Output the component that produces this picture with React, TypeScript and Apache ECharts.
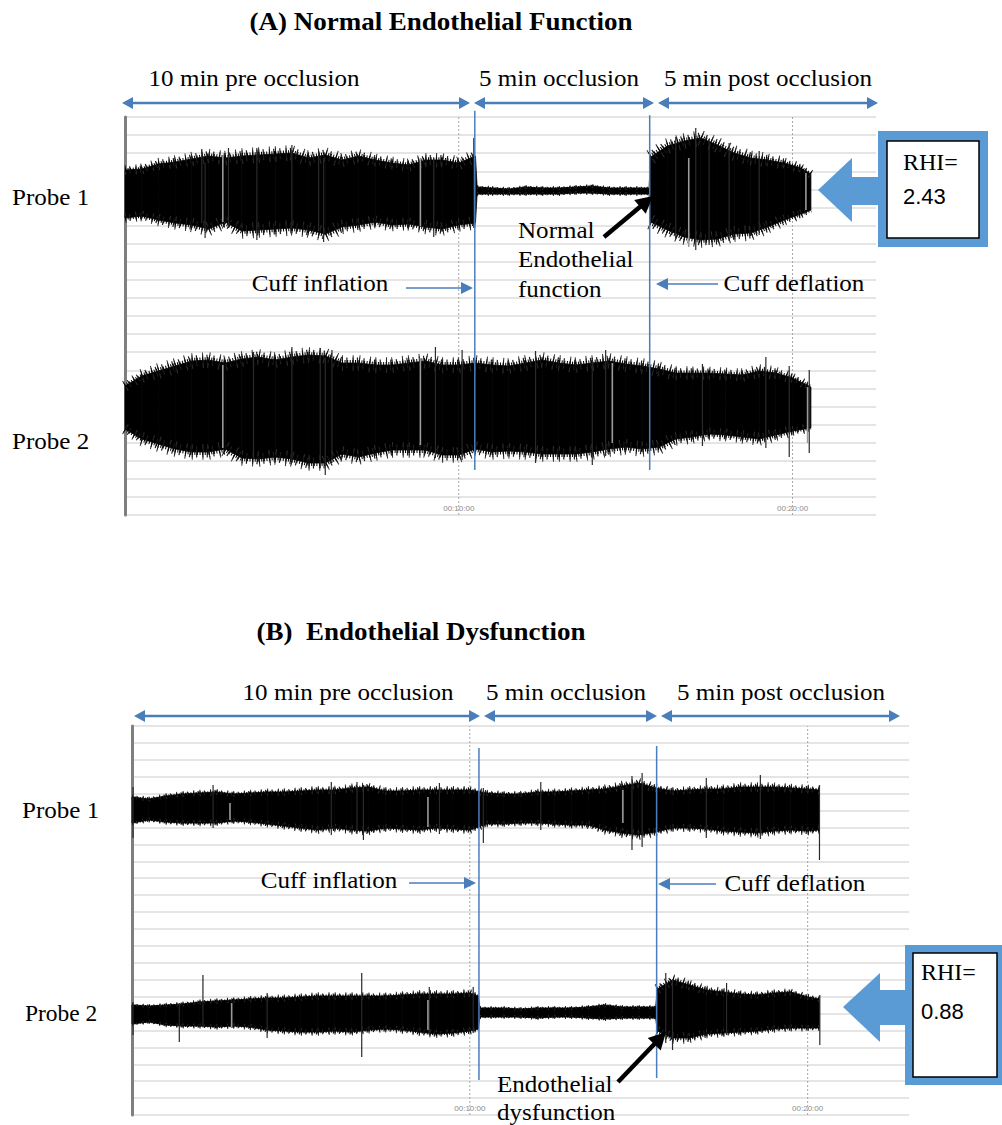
import React, { useEffect, useRef } from "react";
import * as echarts from "echarts";

// ---------------- DATA ----------------
// Time in minutes; envelope rows are [time, upper amplitude, lower amplitude] in arbitrary units (a.u.)
const TIME_TICKS = [10, 20];
const TICK_LABELS = ["00:10:00", "00:20:00"];

const CUFF_A = [10.48, 15.72]; // inflation, deflation (min)
const CUFF_B = [10.27, 15.53];

const A1_ENV: number[][] = [
  [0, 23, -25], [0.5, 24, -23], [1, 29, -27], [1.5, 31, -30], [2, 34, -32], [2.5, 37, -36], [3, 35, -29],
  [3.5, 37, -38], [4, 38, -37], [4.5, 39, -36], [5, 40, -35], [5.5, 35, -37], [6, 38, -41], [6.5, 33, -34],
  [7, 37, -32], [7.5, 33, -29], [8, 30, -32], [8.5, 28, -31], [9, 33, -34], [9.5, 33, -36], [10, 30, -32],
  [10.5, 37, -30],
  [10.55, 6, -1], [11, 5, -1], [11.5, 4, -1], [12, 6, -1], [12.5, 5, -1], [13, 5, -1], [13.5, 6, 0],
  [14, 7, 0], [14.5, 5, -1], [15, 5, -1], [15.7, 5, -1],
  [15.75, 36, -29], [16.25, 47, -37], [16.75, 52, -44], [17.25, 55, -47], [17.75, 48, -46], [18.25, 40, -41],
  [18.75, 35, -40], [19.25, 33, -34], [19.75, 30, -27], [20.25, 25, -21], [20.55, 19, -17],
];
const A2_ENV: number[][] = [
  [0, 22, -21], [0.5, 32, -31], [1, 37, -36], [1.5, 42, -41], [2, 47, -44], [2.5, 48, -44], [3, 45, -41],
  [3.5, 49, -50], [4, 51, -51], [4.5, 48, -49], [5, 51, -51], [5.5, 53, -55], [6, 52, -55], [6.5, 45, -46],
  [7, 45, -49], [7.5, 43, -45], [8, 43, -42], [8.5, 45, -42], [9, 47, -42], [9.5, 43, -47], [10, 43, -47],
  [10.5, 45, -41], [11, 43, -44], [11.5, 42, -43], [12, 45, -44], [12.5, 48, -46], [13, 45, -46],
  [13.5, 43, -46], [14, 45, -44], [14.5, 47, -41], [15, 44, -39], [15.5, 42, -41], [16, 39, -39],
  [16.5, 35, -31], [17, 35, -29], [17.5, 35, -26], [18, 34, -27], [18.5, 33, -29], [19, 37, -31],
  [19.5, 35, -27], [20, 30, -23], [20.55, 21, -20],
];
const B1_ENV: number[][] = [
  [0, 13, -13], [0.5, 11, -10], [1, 14, -12], [1.5, 16, -13], [2, 17, -13], [2.5, 18, -13], [3, 16, -11],
  [3.5, 17, -12], [4, 18, -14], [4.5, 18, -16], [5, 19, -18], [5.5, 20, -20], [6, 20, -18], [6.5, 22, -20],
  [7, 23, -21], [7.5, 19, -18], [8, 19, -19], [8.5, 20, -20], [9, 20, -18], [9.5, 20, -19], [10, 20, -20],
  [10.5, 17, -14], [11, 16, -14], [11.5, 16, -13], [12, 18, -13], [12.5, 18, -14], [13, 19, -15],
  [13.5, 20, -15], [14, 21, -20], [14.5, 24, -23], [15, 27, -25], [15.5, 22, -22], [16, 19, -18],
  [16.5, 20, -18], [17, 21, -19], [17.5, 21, -21], [18, 23, -22], [18.5, 23, -23], [19, 23, -21],
  [19.5, 22, -20], [20, 21, -21], [20.35, 20, -20],
];
const B2_ENV: number[][] = [
  [0, 8, -11], [0.5, 7, -9], [1, 8, -12], [1.5, 9, -13], [2, 11, -13], [2.5, 12, -14], [3, 13, -13],
  [3.5, 14, -14], [4, 15, -17], [4.5, 15, -18], [5, 16, -19], [5.5, 17, -19], [6, 17, -18], [6.5, 17, -19],
  [7, 17, -17], [7.5, 17, -16], [8, 18, -17], [8.5, 19, -19], [9, 19, -21], [9.5, 19, -20], [10, 20, -18],
  [10.25, 17, -16],
  [10.3, 5, -4], [11, 5, -4], [11.5, 4, -4], [12, 5, -5], [12.5, 5, -4], [13, 5, -4], [13.5, 6, -5],
  [14, 8, -6], [14.5, 6, -5], [15, 6, -5], [15.5, 6, -5],
  [15.55, 24, -18], [16, 33, -25], [16.5, 28, -25], [17, 23, -21], [17.5, 21, -20], [18, 19, -19],
  [18.5, 18, -18], [19, 20, -16], [19.5, 21, -15], [20, 16, -15], [20.35, 14, -15],
];

// isolated spikes [time, top, bottom]
const A1_SPIKES: number[][] = [
  [2.3, 44, -30], [2.4, 30, -45], [3.1, 45, -35], [3.95, 45, -47], [5.0, 48, -35], [5.8, 41, -38],
  [5.95, 35, -49], [9.25, 35, -44], [10.45, 55, -35], [16.5, 56, -45], [17.1, 65, -57], [17.5, 54, -52],
  [18.1, 50, -48], [19.0, 42, -42],
];
const A2_SPIKES: number[][] = [
  [3.85, 56, -50], [5.0, 61, -55], [5.85, 60, -60], [6.0, 50, -67], [6.2, 58, -55], [9.3, 61, -50],
  [10.1, 58, -52], [12.3, 57, -55], [14.0, 50, -57], [14.4, 58, -48], [17.3, 44, -38], [19.2, 51, -40],
  [19.9, 42, -49], [20.5, 38, -45],
];
const B1_SPIKES: number[][] = [
  [0.03, 23, -28], [2.4, 25, -18], [5.9, 28, -25], [6.66, 28, -24], [6.85, 25, -30], [9.1, 27, -24],
  [10.4, 22, -33], [12.1, 28, -20], [14.8, 34, -40], [15.1, 37, -37], [17.0, 32, -28], [18.6, 35, -29],
  [20.35, 25, -50],
];
const B2_SPIKES: number[][] = [
  [0.03, 11, -22], [1.4, 10, -29], [2.1, 38, -14], [4.0, 20, -25], [6.8, 40, -44], [8.8, 26, -22],
  [10.1, 26, -20], [15.8, 40, -30], [16.0, 33, -37], [17.6, 30, -22], [20.36, 18, -32],
];

// lighter gaps inside the trace [time, top, bottom]
const A1_GAPS: number[][] = [[2.93, 36, -29], [8.85, 35, -33], [16.89, 35, -54], [20.4, 20, -17]];
const A2_GAPS: number[][] = [[2.93, 43, -40], [8.85, 50, -37], [14.6, 45, -35], [20.45, 21, -35]];
const B1_GAPS: number[][] = [[2.9, 7, -10], [8.76, 13, -17], [14.53, 20, -13]];
const B2_GAPS: number[][] = [[2.95, 10, -14], [8.76, 13, -17]];

const RHI_A = "2.43";
const RHI_B = "0.88";

// ---------------- LAYOUT / STYLE ----------------
const SERIF = "Liberation Serif";
const SANS = "Liberation Sans";
const BLUE_LINE = "#4a7ebb";
const BLUE_FILL = "#5b9bd5";

const GRIDS = [
  { left: 125, top: 117, width: 751, height: 398 }, // A background
  { left: 125, top: 123, width: 751, height: 140 }, // A probe 1
  { left: 125, top: 338, width: 751, height: 140 }, // A probe 2
  { left: 132, top: 726, width: 777, height: 389 }, // B background
  { left: 132, top: 740, width: 777, height: 140 }, // B probe 1
  { left: 132, top: 943, width: 777, height: 140 }, // B probe 2
];
const X_MAX = [22.5, 22.5, 22.5, 23, 23, 23];
const ROWS_A = 22;
const ROWS_B = 23;

// fringe (noise texture) drawn along the envelope edges, purely a stroke style
function fringe(p: number[], q: number[], w: number) {
  const a = {
    type: "line",
    shape: { x1: p[0], y1: p[1], x2: q[0], y2: q[1] },
    style: { stroke: "#000", lineWidth: w, lineDash: [1, 1.6] },
  };
  const b = {
    type: "line",
    shape: { x1: p[0], y1: p[1], x2: q[0], y2: q[1] },
    style: { stroke: "#1e1e1e", lineWidth: w * 1.8, lineDash: [1, 3.3, 1.2, 5.1] },
  };
  const c = {
    type: "line",
    shape: { x1: p[0], y1: p[1], x2: q[0], y2: q[1] },
    style: { stroke: "#333", lineWidth: w * 2.6, lineDash: [1, 9.7, 1, 13.3] },
  };
  return [c, b, a];
}

function envSeries(env: number[][], gi: number) {
  return {
    type: "custom",
    xAxisIndex: gi,
    yAxisIndex: gi,
    silent: true,
    z: 2,
    data: env,
    encode: { x: 0, y: [1, 2] },
    renderItem: (params: any, api: any) => {
      const i = params.dataIndex;
      if (i >= env.length - 1) return { type: "group", children: [] };
      const a = env[i];
      const b = env[i + 1];
      const p1 = api.coord([a[0], a[1]]);
      const p2 = api.coord([b[0], b[1]]);
      const p3 = api.coord([b[0], b[2]]);
      const p4 = api.coord([a[0], a[2]]);
      const children: any[] = [
        {
          type: "polygon",
          shape: { points: [p1, p2, p3, p4] },
          style: { fill: "#000", stroke: "#000", lineWidth: 0.8 },
        },
      ];
      if (b[0] - a[0] > 0.1) {
        const amp = (Math.abs(p4[1] - p1[1]) + Math.abs(p3[1] - p2[1])) / 4;
        const w = Math.max(1.5, Math.min(6, amp * 0.16));
        children.push(...fringe(p1, p2, w), ...fringe(p4, p3, w));
      }
      return { type: "group", children };
    },
  };
}

function vSegSeries(rows: number[][], gi: number, color: string, width: number, z: number) {
  return {
    type: "custom",
    xAxisIndex: gi,
    yAxisIndex: gi,
    silent: true,
    z,
    data: rows,
    encode: { x: 0, y: [1, 2] },
    renderItem: (params: any, api: any) => {
      const r = rows[params.dataIndex];
      const p1 = api.coord([r[0], r[1]]);
      const p2 = api.coord([r[0], r[2]]);
      return {
        type: "line",
        shape: { x1: p1[0], y1: p1[1], x2: p2[0], y2: p2[1] },
        style: { stroke: color, lineWidth: width },
      };
    },
  };
}

function dottedSeries(gi: number, rows: number) {
  return {
    type: "custom",
    xAxisIndex: gi,
    yAxisIndex: gi,
    silent: true,
    z: 1,
    data: TIME_TICKS.map((t) => [t]),
    encode: { x: 0 },
    renderItem: (params: any, api: any) => {
      const t = TIME_TICKS[params.dataIndex];
      const p1 = api.coord([t, 0]);
      const p2 = api.coord([t, rows]);
      return {
        type: "line",
        shape: { x1: p1[0], y1: p1[1], x2: p2[0], y2: p2[1] },
        style: { stroke: "#a6a6a6", lineWidth: 1, lineDash: [2, 2] },
      };
    },
  };
}

function cuffSeries(gi: number, times: number[], extents: number[][]) {
  return {
    type: "custom",
    xAxisIndex: gi,
    yAxisIndex: gi,
    silent: true,
    z: 5,
    data: times.map((t) => [t]),
    encode: { x: 0 },
    renderItem: (params: any, api: any) => {
      const t = times[params.dataIndex];
      const e = extents[params.dataIndex];
      const p1 = api.coord([t, e[0]]);
      const p2 = api.coord([t, e[1]]);
      return {
        type: "line",
        shape: { x1: p1[0], y1: p1[1], x2: p2[0], y2: p2[1] },
        style: { stroke: BLUE_LINE, lineWidth: 1.5 },
      };
    },
  };
}

function txt(x: number, y: number, s: string, o: any = {}) {
  const align = o.align ?? "left";
  return {
    type: "text",
    x,
    y,
    z: 100,
    scaleX: o.sx ?? 1.09,
    style: {
      text: s,
      fontFamily: o.family ?? SERIF,
      fontSize: o.size ?? 23,
      fontWeight: o.bold ? "bold" : "normal",
      fill: "#000",
      textAlign: align,
      align,
      textVerticalAlign: "middle",
      verticalAlign: "middle",
    },
  };
}

function arrow(x1: number, y1: number, x2: number, y2: number, o: any) {
  const { color, width, len, hw, both } = o;
  const dx = x2 - x1;
  const dy = y2 - y1;
  const L = Math.hypot(dx, dy);
  const ux = dx / L;
  const uy = dy / L;
  const px = -uy;
  const py = ux;
  const head = (tx: number, ty: number, sx: number, sy: number) => {
    const bx = tx - sx * len;
    const by = ty - sy * len;
    return {
      type: "polygon",
      z: 100,
      shape: { points: [[tx, ty], [bx + px * hw, by + py * hw], [bx - px * hw, by - py * hw]] },
      style: { fill: color },
    };
  };
  const sx1 = both ? x1 + ux * len * 0.8 : x1;
  const sy1 = both ? y1 + uy * len * 0.8 : y1;
  const ex = x2 - ux * len * 0.8;
  const ey = y2 - uy * len * 0.8;
  const els: any[] = [
    { type: "line", z: 100, shape: { x1: sx1, y1: sy1, x2: ex, y2: ey }, style: { stroke: color, lineWidth: width } },
    head(x2, y2, ux, uy),
  ];
  if (both) els.push(head(x1, y1, -ux, -uy));
  return els;
}

const TOP_ARROW = { color: BLUE_LINE, width: 2.5, len: 11, hw: 6, both: true };
const CUFF_ARROW = { color: BLUE_LINE, width: 1.3, len: 12, hw: 6, both: false };
const BLACK_ARROW = { color: "#000", width: 4.5, len: 17, hw: 9, both: false };

function buildGraphics() {
  const g: any[] = [];
  // Panel A
  g.push(txt(441, 22, "(A) Normal Endothelial Function", { align: "center", bold: true, size: 25, sx: 1.08 }));
  g.push(txt(254, 78, "10 min pre occlusion", { align: "center" }));
  g.push(txt(559, 78, "5 min occlusion", { align: "center" }));
  g.push(txt(768, 78, "5 min post occlusion", { align: "center" }));
  g.push(...arrow(122, 103, 470, 103, TOP_ARROW));
  g.push(...arrow(474, 103, 654, 103, TOP_ARROW));
  g.push(...arrow(658, 103, 878, 103, TOP_ARROW));
  g.push(txt(12, 197, "Probe 1"));
  g.push(txt(12, 441, "Probe 2"));
  g.push(txt(320, 283, "Cuff inflation", { align: "center" }));
  g.push(...arrow(406, 288, 473, 288, CUFF_ARROW));
  g.push(txt(794, 283, "Cuff deflation", { align: "center" }));
  g.push(...arrow(718, 284, 656, 284, CUFF_ARROW));
  g.push(txt(518, 230, "Normal"));
  g.push(txt(518, 259, "Endothelial"));
  g.push(txt(518, 289, "function"));
  g.push(...arrow(604, 237, 653, 196, BLACK_ARROW));
  g.push({
    type: "polygon", z: 100,
    shape: { points: [[818, 190], [852, 158], [852, 177], [882, 177], [882, 205], [852, 205], [852, 222]] },
    style: { fill: BLUE_FILL },
  });
  g.push({ type: "rect", z: 100, shape: { x: 878, y: 131, width: 110, height: 116 }, style: { fill: BLUE_FILL } });
  g.push({ type: "rect", z: 101, shape: { x: 887, y: 141, width: 92, height: 97 }, style: { fill: "#fff", stroke: "#000", lineWidth: 1.5 } });
  g.push({ ...txt(903, 162, "RHI=", { size: 24, sx: 1 }), z: 102 });
  g.push({ ...txt(903, 196, RHI_A, { size: 22, sx: 1, family: SANS }), z: 102 });

  // Panel B
  g.push(txt(421, 632, "(B)  Endothelial Dysfunction", { align: "center", bold: true, size: 25, sx: 1.08 }));
  g.push(txt(348, 692, "10 min pre occlusion", { align: "center" }));
  g.push(txt(566, 692, "5 min occlusion", { align: "center" }));
  g.push(txt(781, 692, "5 min post occlusion", { align: "center" }));
  g.push(...arrow(134, 716, 480, 716, TOP_ARROW));
  g.push(...arrow(484, 716, 657, 716, TOP_ARROW));
  g.push(...arrow(661, 716, 900, 716, TOP_ARROW));
  g.push(txt(22, 810, "Probe 1"));
  g.push(txt(25, 1013, "Probe 2", { sx: 1.02 }));
  g.push(txt(329, 880, "Cuff inflation", { align: "center" }));
  g.push(...arrow(409, 883, 476, 883, CUFF_ARROW));
  g.push(txt(795, 883, "Cuff deflation", { align: "center" }));
  g.push(...arrow(716, 884, 658, 884, CUFF_ARROW));
  g.push(txt(497, 1084, "Endothelial"));
  g.push(txt(497, 1112, "dysfunction"));
  g.push(...arrow(618, 1082, 666, 1032, BLACK_ARROW));
  g.push({
    type: "polygon", z: 100,
    shape: { points: [[843, 1007], [880, 973], [880, 990], [908, 990], [908, 1025], [880, 1025], [880, 1042]] },
    style: { fill: BLUE_FILL },
  });
  g.push({ type: "rect", z: 100, shape: { x: 905, y: 945, width: 100, height: 140 }, style: { fill: BLUE_FILL } });
  g.push({ type: "rect", z: 101, shape: { x: 913, y: 953, width: 84, height: 124 }, style: { fill: "#fff", stroke: "#000", lineWidth: 1.5 } });
  g.push({ ...txt(921, 972, "RHI=", { size: 24, sx: 1 }), z: 102 });
  g.push({ ...txt(921, 1011, RHI_B, { size: 22, sx: 1, family: SANS }), z: 102 });
  return g;
}

function buildOption() {
  const isBg = (i: number) => i === 0 || i === 3;
  const xAxis = GRIDS.map((_, i) => ({
    type: "value",
    gridIndex: i,
    min: 0,
    max: X_MAX[i],
    interval: 10,
    show: isBg(i),
    axisLine: { show: false },
    axisTick: { show: false },
    splitLine: { show: false },
    axisLabel: {
      show: isBg(i),
      inside: true,
      margin: 3,
      fontSize: 8,
      fontFamily: SANS,
      color: "#8c8c8c",
      formatter: (v: number) => {
        const k = TIME_TICKS.indexOf(v);
        return k >= 0 ? TICK_LABELS[k] : "";
      },
    },
  }));
  const yAxis = GRIDS.map((_, i) =>
    isBg(i)
      ? {
          type: "value",
          gridIndex: i,
          min: 0,
          max: i === 0 ? ROWS_A : ROWS_B,
          interval: 1,
          axisLabel: { show: false },
          axisTick: { show: false },
          axisLine: { show: true, lineStyle: { color: "#7f7f7f", width: 3 } },
          splitLine: { show: true, lineStyle: { color: "#dcdcdc", width: 1.5 } },
        }
      : { type: "value", gridIndex: i, min: -70, max: 70, show: false, splitLine: { show: false } }
  );

  const series: any[] = [
    dottedSeries(0, ROWS_A),
    dottedSeries(3, ROWS_B),
    envSeries(A1_ENV, 1),
    envSeries(A2_ENV, 2),
    envSeries(B1_ENV, 4),
    envSeries(B2_ENV, 5),
    vSegSeries(A1_SPIKES, 1, "#2a2a2a", 1.2, 3),
    vSegSeries(A2_SPIKES, 2, "#2a2a2a", 1.2, 3),
    vSegSeries(B1_SPIKES, 4, "#2a2a2a", 1.2, 3),
    vSegSeries(B2_SPIKES, 5, "#2a2a2a", 1.2, 3),
    vSegSeries(A1_GAPS, 1, "#9a9a9a", 1.6, 4),
    vSegSeries(A2_GAPS, 2, "#9a9a9a", 1.6, 4),
    vSegSeries(B1_GAPS, 4, "#9a9a9a", 1.6, 4),
    vSegSeries(B2_GAPS, 5, "#9a9a9a", 1.6, 4),
    cuffSeries(0, CUFF_A, [[2.49, 22.35], [2.49, 22.1]]),
    cuffSeries(3, CUFF_B, [[2.07, 21.7], [2.19, 21.82]]),
  ];

  return {
    animation: false,
    backgroundColor: "#ffffff",
    grid: GRIDS.map((g) => ({ ...g, containLabel: false })),
    xAxis,
    yAxis,
    series,
    graphic: { elements: buildGraphics() },
  };
}

export default function App() {
  const ref = useRef<HTMLDivElement>(null);
  useEffect(() => {
    if (!ref.current) return;
    const chart = echarts.init(ref.current, null, { renderer: "svg", width: 1002, height: 1125 });
    chart.setOption(buildOption() as any);
    return () => chart.dispose();
  }, []);
  return (
    <div
      ref={ref}
      style={{ position: "absolute", left: 0, top: 0, width: 1002, height: 1125, background: "#fff" }}
    />
  );
}
